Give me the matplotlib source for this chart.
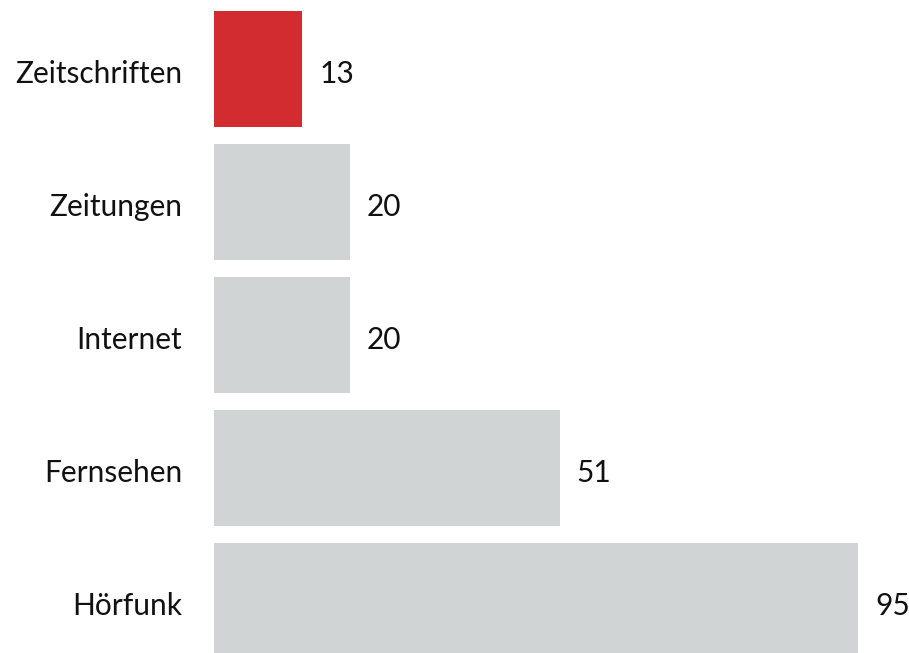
import matplotlib
matplotlib.use("Agg")
from matplotlib import pyplot as plt

plt.rcParams["font.family"] = ["Lato", "DejaVu Sans"]

categories = ["Zeitschriften", "Zeitungen", "Internet", "Fernsehen", "Hörfunk"]
values = [13, 20, 20, 51, 95]
colors = ["#D22B30", "#D0D4D5", "#D0D4D5", "#D0D4D5", "#D0D4D5"]

fig = plt.figure(figsize=(9.09, 6.53), dpi=100)
ax = fig.add_axes([0, 0, 1, 1])

pos = list(range(len(categories)))
ax.barh(pos, values, height=0.872, color=colors)

# category names to the left, values to the right of each bar
for y, name, v in zip(pos, categories, values):
    ax.text(-4.7, y + 0.035, name, ha="right", va="center", fontsize=21.5,
            color="#111111")
    ax.text(v + 2.5, y + 0.035, str(v), ha="left", va="center", fontsize=21.5,
            color="#111111")

ax.set_xlim(-31.57, 102.52)
ax.set_ylim(4.391, -0.519)
ax.axis("off")

fig.savefig("out.png", dpi=100)
